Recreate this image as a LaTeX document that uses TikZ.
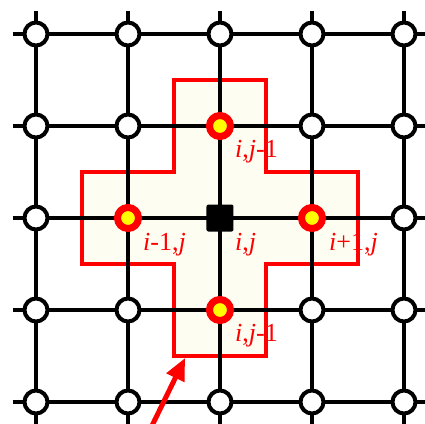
\documentclass[tikz,border=0pt]{standalone}
\usepackage{fontspec}
\setmainfont{Liberation Serif}
\usetikzlibrary{arrows.meta,calc}
\definecolor{ink}{HTML}{000000}
\definecolor{hot}{HTML}{FF0000}
\definecolor{hotfill}{HTML}{FFFF00}
\definecolor{stencil}{HTML}{FDFDF1}

\begin{document}
\begin{tikzpicture}[x=92pt,y=-92pt,
  gridline/.style={draw=ink,line width=4pt},
  site/.style={circle,draw=ink,fill=white,line width=4pt,minimum size=23pt,inner sep=0pt},
  nbr/.style={circle,draw=hot,fill=hotfill,line width=7pt,minimum size=21pt,inner sep=0pt},
  ctr/.style={rectangle,fill=ink,rounded corners=2pt,minimum size=27pt,inner sep=0pt},
  edge/.style={draw=hot,fill=stencil,line width=4pt,line join=miter},
  lbl/.style={anchor=base west,text=hot,inner sep=0pt,
    font=\fontsize{26}{30}\selectfont},
  pointer/.style={-{Triangle[length=22pt,width=19pt]},draw=hot,fill=hot,line width=5pt}]

\useasboundingbox (-0.3913,-0.3696) rectangle (4.2283,4.2283);
\clip (-0.3913,-0.3696) rectangle (4.2283,4.2283);

% ---- five-point stencil ----
\draw[edge] (1.5,0.5) -- (2.5,0.5) -- (2.5,1.5) -- (3.5,1.5) -- (3.5,2.5)
  -- (2.5,2.5) -- (2.5,3.5) -- (1.5,3.5) -- (1.5,2.5) -- (0.5,2.5)
  -- (0.5,1.5) -- (1.5,1.5) -- cycle;

% ---- mesh lines ----
\foreach \k in {0,...,4}{
  \coordinate (w\k) at (-0.25,\k);
  \coordinate (e\k) at (4.25,\k);
  \coordinate (n\k) at (\k,-0.25);
  \coordinate (s\k) at (\k,4.25);
  \draw[gridline] (w\k) -- (e\k);
  \draw[gridline] (n\k) -- (s\k);
}

% ---- mesh points ----
\foreach \c in {0,...,4}
  \foreach \r in {0,...,4}
    \node[site] (p\c\r) at (\c,\r) {};

% ---- stencil points ----
\node[nbr] (top) at (2,1) {};
\node[nbr] (left) at (1,2) {};
\node[nbr] (right) at (3,2) {};
\node[nbr] (bottom) at (2,3) {};
\node[ctr] (mid) at (2,2) {};

\node[lbl] (ltop) at ($(top)+(15pt,-31pt)$) {\textit{i},\textit{j}-1};
\node[lbl] (lleft) at ($(left)+(15pt,-32pt)$) {\textit{i}-1,\textit{j}};
\node[lbl] (lmid) at ($(mid)+(15pt,-32pt)$) {\textit{i},\textit{j}};
\node[lbl] (lright) at ($(right)+(17pt,-32pt)$) {\textit{i}+1,\textit{j}};
\node[lbl] (lbottom) at ($(bottom)+(15pt,-31pt)$) {\textit{i},\textit{j}-1};

% ---- pointer ----
\coordinate (tail) at (1.185,4.413);
\coordinate (tip) at (1.620,3.522);
\draw[pointer] (tail) -- (tip);

\end{tikzpicture}
\end{document}
